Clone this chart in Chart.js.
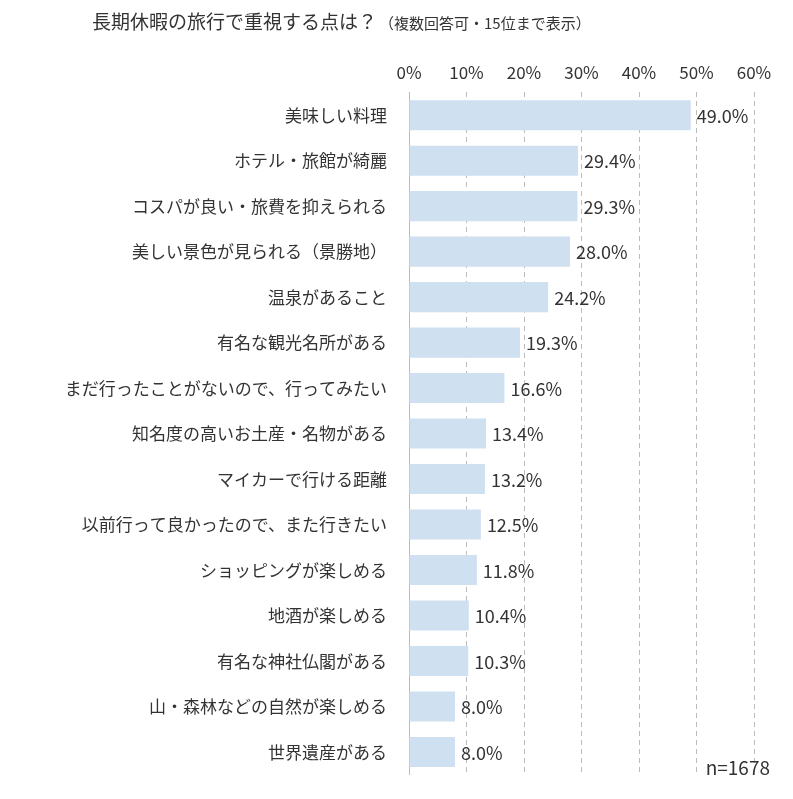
<!DOCTYPE html>
<html>
<head>
<meta charset="utf-8">
<script src="https://cdn.jsdelivr.net/npm/chart.js@4"></script>
<style>
  body { margin: 0; background: #fff; }
  #wrap { width: 793px; height: 799px; }
</style>
</head>
<body>
<div id="wrap"><canvas id="chart"></canvas></div>
<script>
const FONT = '"Noto Sans CJK JP", "Noto Sans", sans-serif';

// 項目と割合
const categories = [
    '美味しい料理', 'ホテル・旅館が綺麗', 'コスパが良い・旅費を抑えられる',
    '美しい景色が見られる（景勝地）', '温泉があること', '有名な観光名所がある',
    'まだ行ったことがないので、行ってみたい', '知名度の高いお土産・名物がある',
    'マイカーで行ける距離', '以前行って良かったので、また行きたい',
    'ショッピングが楽しめる', '地酒が楽しめる', '有名な神社仏閣がある',
    '山・森林などの自然が楽しめる', '世界遺産がある'
];
const values = [49.0, 29.4, 29.3, 28.0, 24.2, 19.3, 16.6, 13.4, 13.2, 12.5, 11.8, 10.4, 10.3, 8.0, 8.0];
const tickLabels = ['0%', '10%', '20%', '30%', '40%', '50%', '60%'];

const titleMain = '長期休暇の旅行で重視する点は？';
const titleSub = '（複数回答可・15位まで表示）';
const sampleNote = 'n=1678';

// タイトル・数値ラベル・n数を描く
const decorPlugin = {
    id: 'decor',
    afterDraw(chart) {
        const ctx = chart.ctx;
        ctx.save();
        ctx.fillStyle = '#333';
        ctx.textBaseline = 'middle';
        ctx.textAlign = 'left';
        ctx.font = '19px ' + FONT;
        ctx.fillText(titleMain, 92, 22);
        const w = ctx.measureText(titleMain).width;
        ctx.font = '15px ' + FONT;
        ctx.fillText(titleSub, 92 + w + 2, 23);

        ctx.font = '18px ' + FONT;
        const meta = chart.getDatasetMeta(0);
        meta.data.forEach((bar, i) => {
            ctx.fillText(values[i].toFixed(1) + '%', bar.x + 6, bar.y + 1);
        });

        ctx.font = '19px ' + FONT;
        ctx.textAlign = 'right';
        ctx.fillText(sampleNote, 770, 768);
        ctx.restore();
    }
};

new Chart(document.getElementById('chart'), {
    type: 'bar',
    data: {
        labels: categories,
        datasets: [{
            data: values,
            backgroundColor: '#cfe0f1',
            barPercentage: 0.66,
            categoryPercentage: 1
        }]
    },
    options: {
        indexAxis: 'y',
        responsive: true,
        maintainAspectRatio: false,
        animation: false,
        layout: { padding: { top: 52, right: 39, bottom: 10, left: 0 } },
        plugins: {
            legend: { display: false },
            tooltip: { enabled: false }
        },
        scales: {
            x: {
                position: 'top',
                min: 0,
                max: 60,
                ticks: {
                    stepSize: 10,
                    color: '#333',
                    font: { size: 17, family: FONT },
                    padding: 10,
                    callback: (v, i) => tickLabels[i]
                },
                grid: {
                    color: '#bbb',
                    drawTicks: false,
                    tickLength: 0
                },
                border: { display: false, dash: [5, 4] }
            },
            y: {
                ticks: {
                    color: '#333',
                    font: { size: 17, family: FONT },
                    padding: 14
                },
                grid: { display: false },
                border: { display: true, color: '#bbb' },
                afterFit(scale) { scale.width = 409; }
            }
        }
    },
    plugins: [decorPlugin]
});
</script>
</body>
</html>
